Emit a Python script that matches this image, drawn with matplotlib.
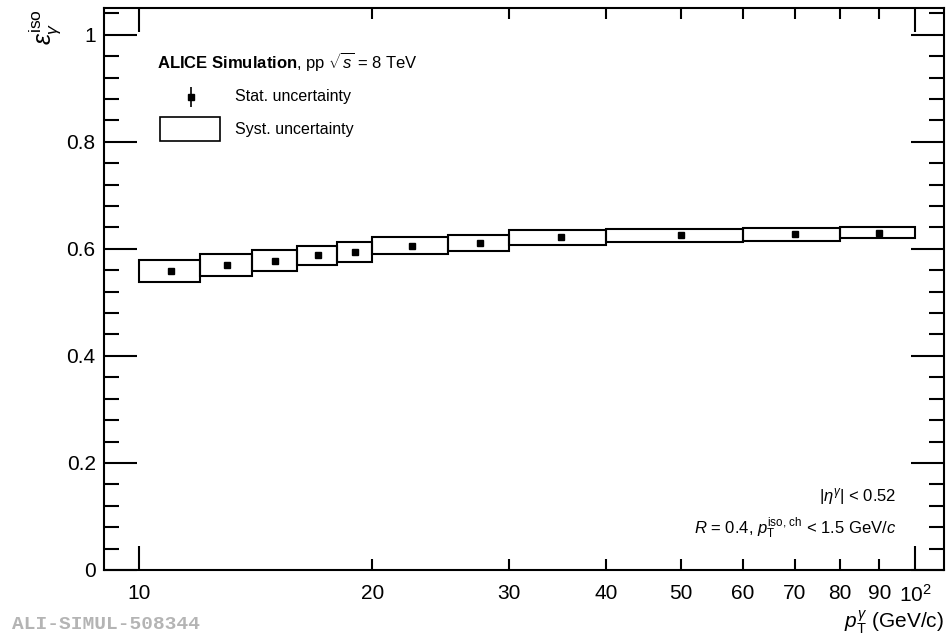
import matplotlib
matplotlib.use("Agg")
import matplotlib.pyplot as plt
from matplotlib.patches import Rectangle
from matplotlib.ticker import FixedLocator, FixedFormatter, NullFormatter

plt.rcParams["font.family"] = ["Liberation Sans", "DejaVu Sans"]
plt.rcParams["mathtext.fontset"] = "custom"
plt.rcParams["mathtext.rm"] = "Liberation Sans"
plt.rcParams["mathtext.it"] = "Liberation Sans:italic"
plt.rcParams["mathtext.bf"] = "Liberation Sans:bold"

# pT bin edges (GeV/c) and isolation efficiency
bin_edges = [10, 12, 14, 16, 18, 20, 25, 30, 40, 60, 80, 100]
efficiency = [0.559, 0.570, 0.578, 0.588, 0.594, 0.606, 0.611, 0.622, 0.625, 0.627, 0.630]
syst_err = [0.020, 0.020, 0.019, 0.018, 0.018, 0.0165, 0.015, 0.014, 0.013, 0.0115, 0.0105]
stat_err = [0.001] * 11

x_major = [10, 100]
x_major_labels = ["10", "$10^2$"]
x_minor = [20, 30, 40, 50, 60, 70, 80, 90]
x_minor_labels = ["20", "30", "40", "50", "60", "70", "80", "90"]

fig = plt.figure(figsize=(9.49, 6.36), dpi=100)
ax = fig.add_axes([0.1096, 0.1038, 0.8851, 0.8836])

for i in range(len(efficiency)):
    lo, hi = bin_edges[i], bin_edges[i + 1]
    ax.add_patch(Rectangle((lo, efficiency[i] - syst_err[i]), hi - lo, 2 * syst_err[i],
                           facecolor="none", edgecolor="black", linewidth=1.5))

centers = [(bin_edges[i] + bin_edges[i + 1]) / 2 for i in range(len(efficiency))]
ax.errorbar(centers, efficiency, yerr=stat_err, fmt="s", color="black",
            markersize=5, elinewidth=1.2, capsize=0)

ax.set_xscale("log")
ax.set_xlim(9.02, 109)
ax.set_ylim(0, 1.05)

ax.xaxis.set_major_locator(FixedLocator(x_major))
ax.xaxis.set_major_formatter(FixedFormatter(x_major_labels))
ax.xaxis.set_minor_locator(FixedLocator(x_minor))
ax.xaxis.set_minor_formatter(FixedFormatter(x_minor_labels))
ax.set_yticks([0, 0.2, 0.4, 0.6, 0.8, 1.0])
ax.set_yticklabels(["0", "0.2", "0.4", "0.6", "0.8", "1"])
ax.set_yticks([i * 0.04 for i in range(27)], minor=True)
ax.yaxis.set_minor_formatter(NullFormatter())

ax.tick_params(axis="both", which="both", direction="in", top=True, right=True,
               width=1.5, labelsize=15, color="black")
ax.tick_params(axis="x", which="major", length=17, pad=10)
ax.tick_params(axis="x", which="minor", length=8, pad=10)
ax.tick_params(axis="y", which="major", length=24, pad=6)
ax.tick_params(axis="y", which="minor", length=11)
for s in ax.spines.values():
    s.set_linewidth(1.5)

# legend block
ax.text(0.063, 0.904, r"$\mathbf{ALICE\ Simulation}$, pp $\sqrt{s}$ = 8 TeV",
        transform=ax.transAxes, fontsize=12, va="center", ha="left")
ax.errorbar([0.103], [0.842], yerr=[0.018], fmt="s", color="black", markersize=5,
            elinewidth=1.2, capsize=0, transform=ax.transAxes)
ax.text(0.156, 0.842, "Stat. uncertainty", transform=ax.transAxes,
        fontsize=11.5, va="center", ha="left")
ax.add_patch(Rectangle((0.067, 0.763), 0.071, 0.043, transform=ax.transAxes,
                       facecolor="none", edgecolor="black", linewidth=1.2))
ax.text(0.156, 0.783, "Syst. uncertainty", transform=ax.transAxes,
        fontsize=11.5, va="center", ha="left")

ax.text(0.943, 0.13, r"$|\eta^{\gamma}|$ < 0.52", transform=ax.transAxes,
        fontsize=12, ha="right", va="center")
ax.text(0.943, 0.074, r"$R$ = 0.4, $p_{\rm T}^{\rm iso,\,ch}$ < 1.5 GeV/$c$",
        transform=ax.transAxes, fontsize=12, ha="right", va="center")

fig.text(0.995, 0.0, r"$p_{\rm T}^{\gamma}$ (GeV/c)", fontsize=15, ha="right", va="bottom")
fig.text(0.047, 0.985, r"$\varepsilon_{\gamma}^{\rm iso}$", fontsize=18, rotation=90,
         ha="center", va="top")

fig.text(0.013, 0.004, "ALI-SIMUL-508344", fontsize=14, color="#b4b4b4",
         family="Liberation Mono", weight="bold", ha="left", va="bottom")

fig.savefig("out.png", dpi=100)
plt.close(fig)
